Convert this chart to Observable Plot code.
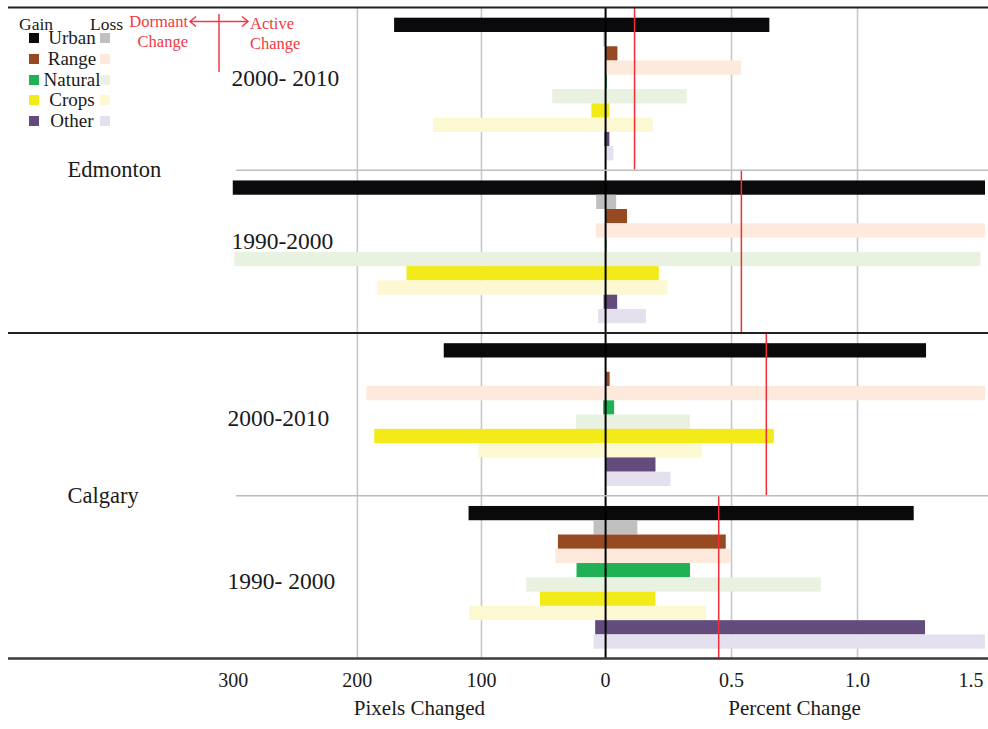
<!DOCTYPE html>
<html><head><meta charset="utf-8">
<script src="https://cdn.jsdelivr.net/npm/d3@7"></script>
<script src="https://cdn.jsdelivr.net/npm/@observablehq/plot@0.6"></script>
<style>
body{margin:0;background:#fff;}
#wrap{position:relative;width:988px;height:729px;font-family:"Liberation Serif",serif;color:#1a1a1a;}
#wrap svg.plot{position:absolute;left:0;top:0;}
.lg{position:absolute;white-space:nowrap;line-height:1;}
.sw{position:absolute;width:10px;height:10px;}
#anno{position:absolute;left:0;top:0;pointer-events:none;}
</style></head>
<body><div id="wrap"></div>
<script>
// ---- data ----
const panels = ["Edmonton 2000-2010", "Edmonton 1990-2000", "Calgary 2000-2010", "Calgary 1990-2000"];
const panelCity = ["Edmonton", "Edmonton", "Calgary", "Calgary"];
const panelPeriod = ["2000- 2010", "1990-2000", "2000-2010", "1990- 2000"];
const categories = ["Urban", "Range", "Natural", "Crops", "Other"];
const gainColors = ["#0a0a0c", "#974a21", "#1fb153", "#f2ea19", "#634c7c"];
const lossColors = ["#c0c0c0", "#fdeadd", "#e9f1e0", "#fbf8d2", "#e5e0ee"];

// pixels changed (left side), per panel, per category
const gainPixels = [
  [170, 0, 0, 11, 0.5],
  [300, 0, 0, 160, 1.2],
  [130, 0, 1.6, 186, 0],
  [110, 38, 23, 52.5, 8]
];
const lossPixels = [
  [1.4, 0.4, 42.6, 138.6, 0],
  [7.2, 7.6, 298.7, 183.5, 5.6],
  [0, 192.4, 23.4, 102, 0],
  [9.3, 40, 63.5, 109.6, 9.3]
];
// percent change (right side)
const gainPercent = [
  [0.652, 0.049, 0.007, 0.017, 0.017],
  [1.52, 0.087, 0.006, 0.213, 0.048],
  [1.274, 0.018, 0.036, 0.67, 0.2],
  [1.225, 0.479, 0.337, 0.2, 1.27]
];
const lossPercent = [
  [0, 0.54, 0.324, 0.189, 0.033],
  [0.044, 1.52, 1.49, 0.247, 0.162],
  [0, 1.52, 0.337, 0.385, 0.26],
  [0.128, 0.499, 0.856, 0.401, 1.52]
];
// red reference line (percent) per panel
const panelAverage = [0.115, 0.539, 0.638, 0.449];

const pixelTicks = [300, 200, 100, 0];
const percentTicks = [0.5, 1.0, 1.5];

// ---- layout constants ----
const PXU = 203;          // pixels-changed units per one percent unit on shared axis
const PANEL = 11.4;       // rows per panel incl. padding
const PADTOP = 0.75;

const rows = [];
panels.forEach((p, pi) => {
  categories.forEach((c, ci) => {
    rows.push({pi, r: ci * 2, gain: true, px: gainPixels[pi][ci], pct: gainPercent[pi][ci], color: gainColors[ci]});
    rows.push({pi, r: ci * 2 + 1, gain: false, px: lossPixels[pi][ci], pct: lossPercent[pi][ci], color: lossColors[ci]});
  });
});
const pIdx = panels.map((_, i) => i);
const uPx = v => -v / PXU;
const leftTicks = pixelTicks.map(uPx);
const gridTicks = [uPx(200), uPx(100), 0.5, 1.0];
const tickFmt = t => t < 0 ? String(Math.round(-t * PXU)) : (t === 0 ? "0" : t.toFixed(1));
const titles = [
  {label: "Pixels Changed", x: uPx(d3.max(pixelTicks) / 2)},
  {label: "Percent Change", x: d3.max(percentTicks) / 2}
];

const chart = Plot.plot({
  width: 988, height: 729,
  marginTop: 7, marginBottom: 71, marginLeft: 8, marginRight: 3,
  style: {fontFamily: "Liberation Serif, serif", fontSize: "20px", color: "#1a1a1a", background: "transparent"},
  x: {domain: [-2.37, 1.508]},
  y: {domain: [0, PANEL * panels.length], reverse: true, axis: null},
  color: {type: "identity"},
  marks: [
    Plot.ruleX(gridTicks, {x: d => d, stroke: "#c8c8c8", strokeWidth: 1.6}),
    Plot.rect(rows, {
      x1: d => uPx(d.px), x2: d => d.pct,
      y1: d => d.pi * PANEL + PADTOP + d.r, y2: d => d.pi * PANEL + PADTOP + d.r + 1,
      fill: d => d.color, clip: true
    }),
    Plot.ruleX([0], {stroke: "#000", strokeWidth: 2}),
    Plot.ruleX(pIdx, {x: d => panelAverage[d], y1: d => d * PANEL, y2: d => (d + 1) * PANEL, stroke: "#ee2f37", strokeWidth: 1.5}),
    // panel separators
    Plot.ruleY(pIdx.filter(i => i % 2 === 1), {y: d => d * PANEL, stroke: "#bdbdbd", strokeWidth: 1.6, insetLeft: 228, insetRight: -3}),
    Plot.ruleY(pIdx.filter(i => i % 2 === 0), {y: d => d * PANEL, stroke: "#222", strokeWidth: 2, insetRight: -3}),
    Plot.ruleY([panels.length], {y: d => d * PANEL, stroke: "#3a3a3a", strokeWidth: 2.5, insetRight: -3}),
    // city labels
    Plot.text(pIdx.filter(i => i % 2 === 0), {y: d => (d + 1) * PANEL, text: d => panelCity[d], frameAnchor: "left", dx: 59, textAnchor: "start", lineAnchor: "middle", fontSize: 22.5, fill: "#1a1a1a"}),
    // period labels
    Plot.text(pIdx.filter(i => panelCity[i] === "Edmonton"), {y: d => d * PANEL + PANEL / 2, text: d => panelPeriod[d], frameAnchor: "left", dx: 223, dy: -10, textAnchor: "start", lineAnchor: "middle", fontSize: 23.5, fill: "#1a1a1a"}),
    Plot.text(pIdx.filter(i => panelCity[i] === "Calgary"), {y: d => d * PANEL + PANEL / 2, text: d => panelPeriod[d], frameAnchor: "left", dx: 219, dy: 4, textAnchor: "start", lineAnchor: "middle", fontSize: 23.5, fill: "#1a1a1a"}),
    // axes
    Plot.axisX({ticks: [...leftTicks, ...percentTicks.filter(t => t < 1.5)], tickFormat: tickFmt, tickSize: 0, tickPadding: 14, fontSize: 20, fill: "#1a1a1a", label: null}),
    Plot.axisX({ticks: percentTicks.filter(t => t >= 1.5), tickFormat: tickFmt, tickSize: 0, tickPadding: 14, fontSize: 20, textAnchor: "end", fill: "#1a1a1a", label: null}),
    Plot.text(titles, {x: "x", text: "label", frameAnchor: "bottom", dy: 50, lineAnchor: "middle", fontSize: 21, fill: "#1a1a1a"})
  ]
});
const wrap = document.getElementById("wrap");
wrap.appendChild(chart);

// ---- legend ----
function el(cls, css, txt) {
  const d = document.createElement("div");
  d.className = cls; Object.assign(d.style, css);
  if (txt != null) d.textContent = txt;
  wrap.appendChild(d); return d;
}
el("lg", {left: "19px", top: "16px", fontSize: "17.5px"}, "Gain");
el("lg", {left: "90px", top: "16px", fontSize: "17.5px"}, "Loss");
categories.forEach((c, i) => {
  const cy = 38.3 + i * 20.7;
  el("sw", {left: "29px", top: (cy - 5) + "px", background: gainColors[i]});
  el("sw", {left: "100px", top: (cy - 5) + "px", background: lossColors[i]});
  el("lg", {left: "72px", top: (cy - 10) + "px", fontSize: "19px", transform: "translateX(-50%)"}, c);
});

// ---- dormant / active annotation ----
const red = "#ee3a43";
el("lg", {left: "188px", top: "14px", fontSize: "16.5px", color: red, transform: "translateX(-100%)"}, "Dormant");
el("lg", {left: "188px", top: "34px", fontSize: "16.5px", color: red, transform: "translateX(-100%)"}, "Change");
el("lg", {left: "250px", top: "16px", fontSize: "16.5px", color: red}, "Active");
el("lg", {left: "250px", top: "36px", fontSize: "16.5px", color: red}, "Change");
const ns = "http://www.w3.org/2000/svg";
const a = document.createElementNS(ns, "svg");
a.setAttribute("id", "anno"); a.setAttribute("width", 988); a.setAttribute("height", 100);
a.innerHTML = `<g stroke="${red}" stroke-width="1.5" fill="none">
<line x1="190" y1="21.5" x2="248" y2="21.5"/>
<polyline points="196,16.5 190,21.5 196,26.5"/>
<polyline points="242,16.5 248,21.5 242,26.5"/>
<line x1="219" y1="14" x2="219" y2="72"/></g>`;
wrap.appendChild(a);
</script>
</body></html>
